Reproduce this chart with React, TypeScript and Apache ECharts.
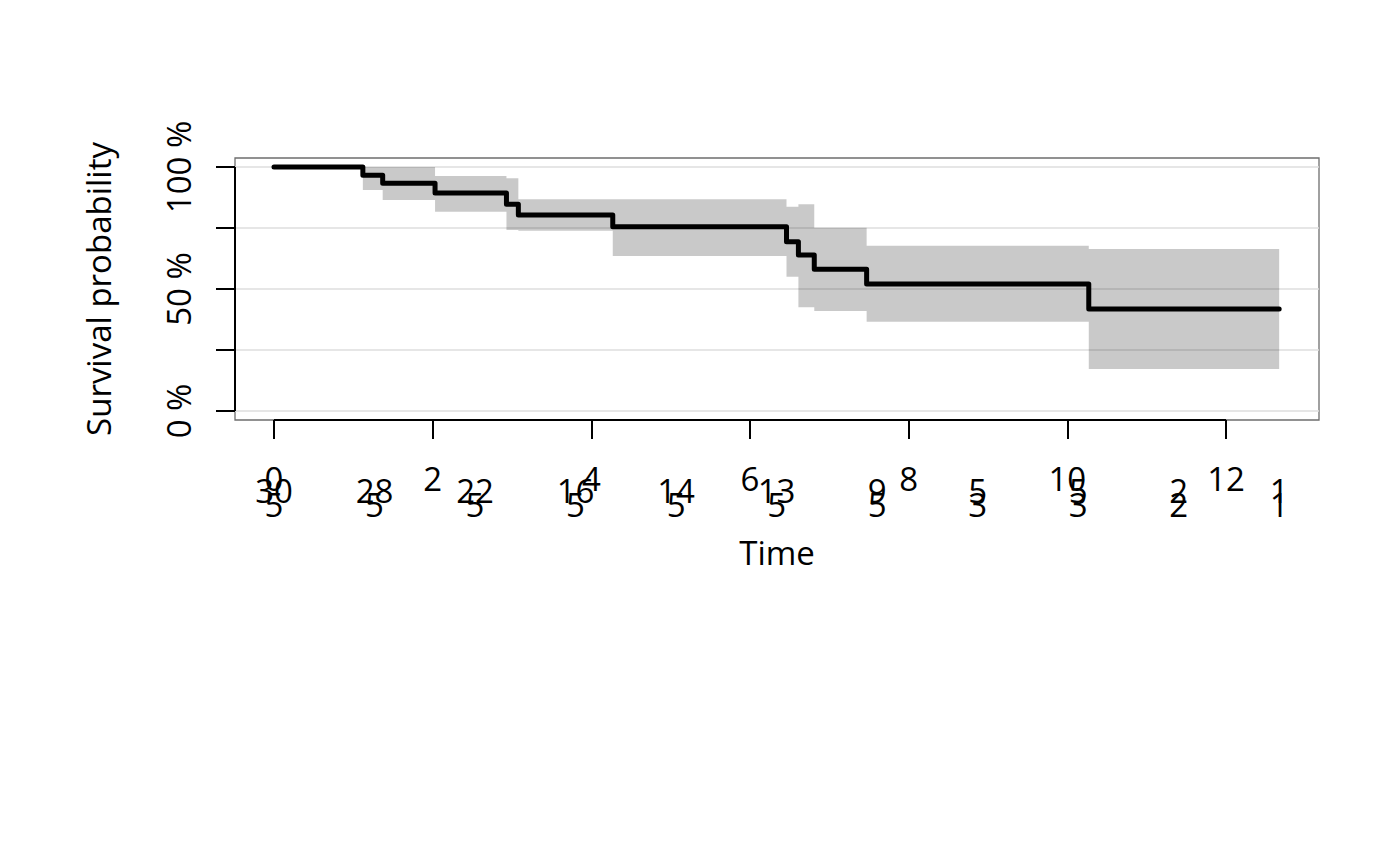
import React, { useEffect, useRef } from "react";
import * as echarts from "echarts";

// Kaplan-Meier step data (time, survival %, CI bounds %)
const stepTimes = [0, 1.12, 1.37, 2.03, 2.93, 3.08, 4.27, 6.46, 6.61, 6.81, 7.47, 10.27];
const survival = [100, 96.67, 93.33, 89.3, 84.7, 80.3, 75.5, 69.4, 63.9, 58.1, 52.0, 41.8];
const upperCI = [100, 100, 100, 96.3, 95.4, 86.8, 86.8, 83.7, 84.7, 75.1, 67.7, 66.4];
const lowerCI = [100, 90.6, 86.5, 81.7, 74.2, 73.9, 63.5, 55.0, 42.5, 41.0, 36.6, 17.2];
const endTime = 12.67;

const xTicks = [0, 2, 4, 6, 8, 10, 12];
const yTicks = [0, 25, 50, 75, 100];
const yLabels = [0, 50, 100];

const atRiskTimes = [0, 1.267, 2.534, 3.801, 5.068, 6.335, 7.602, 8.869, 10.136, 11.403, 12.67];
const atRiskRow1 = [30, 28, 22, 16, 14, 13, 9, 5, 5, 2, 1];
const atRiskRow2 = [5, 5, 5, 5, 5, 5, 5, 3, 3, 2, 1];

const X_MIN = -0.4916;
const X_MAX = 13.172;
const Y_MIN = -3.689;
const Y_MAX = 103.69;

const FONT = "Open Sans";
const FS = 33;

function lookup(values: number[], v: number): string {
  const i = atRiskTimes.findIndex((t) => Math.abs(t - v) < 1e-6);
  return i >= 0 ? String(values[i]) : "";
}

export default function App() {
  const ref = useRef<HTMLDivElement>(null);

  useEffect(() => {
    if (!ref.current) return;
    const chart = echarts.init(ref.current, undefined, { renderer: "svg" });

    const curve = stepTimes.map((t, i) => [t, survival[i]]);
    curve.push([endTime, survival[survival.length - 1]]);

    const baseX = {
      type: "value",
      min: X_MIN,
      max: X_MAX,
      position: "bottom",
      splitLine: { show: false },
      axisLine: { show: false, onZero: false },
    };

    const rowAxis = (values: number[], margin: number) => ({
      ...baseX,
      axisTick: { show: false },
      axisLabel: {
        show: true,
        customValues: atRiskTimes,
        formatter: (v: number) => lookup(values, v),
        margin,
        fontSize: FS,
        lineHeight: FS,
        fontFamily: FONT,
        color: "#000",
      },
    });

    const option: any = {
      animation: false,
      backgroundColor: "#fff",
      grid: {
        left: 235,
        right: 81,
        top: 158,
        bottom: 446,
        show: true,
        borderColor: "#6e6e6e",
        borderWidth: 1.3,
        backgroundColor: "transparent",
      },
      xAxis: [
        {
          ...baseX,
          name: "Time",
          nameLocation: "middle",
          nameGap: 116,
          nameTextStyle: { fontSize: FS, lineHeight: FS, fontFamily: FONT, color: "#000" },
          axisTick: {
            show: true,
            customValues: xTicks,
            length: 19,
            lineStyle: { color: "#000", width: 2 },
          },
          axisLabel: {
            show: true,
            customValues: xTicks,
            margin: 42,
            fontSize: FS,
            lineHeight: FS,
            fontFamily: FONT,
            color: "#000",
          },
        },
        rowAxis(atRiskRow1, 54),
        rowAxis(atRiskRow2, 68),
      ],
      yAxis: {
        type: "value",
        min: Y_MIN,
        max: Y_MAX,
        splitLine: { show: false },
        axisLine: { show: false, onZero: false },
        name: "Survival probability",
        nameLocation: "middle",
        nameGap: 120,
        nameTextStyle: { fontSize: FS, lineHeight: FS, fontFamily: FONT, color: "#000" },
        axisTick: {
          show: true,
          customValues: yTicks,
          length: 19,
          lineStyle: { color: "#000", width: 2 },
        },
        axisLabel: {
          show: true,
          customValues: yLabels,
          formatter: (v: number) => `${v} %`,
          rotate: 90,
          margin: 40,
          fontSize: FS,
          lineHeight: FS,
          fontFamily: FONT,
          color: "#000",
        },
      },
      series: [
        {
          name: "gridlines",
          type: "line",
          data: [],
          z: 1,
          silent: true,
          markLine: {
            z: 1,
            silent: true,
            symbol: "none",
            label: { show: false },
            lineStyle: { color: "#dedede", width: 1.5, type: "solid" },
            data: yTicks.map((v) => ({ yAxis: v })),
          },
        },
        {
          name: "ci",
          type: "custom",
          z: 2,
          silent: true,
          data: [[0, 0]],
          encode: { x: 0, y: 1 },
          renderItem: (_params: any, api: any) => {
            const n = stepTimes.length;
            const pts: number[][] = [];
            for (let i = 0; i < n; i++) {
              const t0 = stepTimes[i];
              const t1 = i + 1 < n ? stepTimes[i + 1] : endTime;
              pts.push(api.coord([t0, upperCI[i]]));
              pts.push(api.coord([t1, upperCI[i]]));
            }
            for (let i = n - 1; i >= 0; i--) {
              const t0 = stepTimes[i];
              const t1 = i + 1 < n ? stepTimes[i + 1] : endTime;
              pts.push(api.coord([t1, lowerCI[i]]));
              pts.push(api.coord([t0, lowerCI[i]]));
            }
            return {
              type: "polygon",
              shape: { points: pts },
              style: { fill: "rgba(0,0,0,0.21)", stroke: "none" },
            };
          },
        },
        {
          name: "survival",
          type: "line",
          step: "end",
          z: 3,
          data: curve,
          symbol: "none",
          lineStyle: { color: "#000", width: 5, cap: "round", join: "round" },
        },
        {
          name: "xAxisLine",
          type: "line",
          z: 4,
          clip: false,
          symbol: "none",
          data: [
            [xTicks[0], Y_MIN],
            [xTicks[xTicks.length - 1], Y_MIN],
          ],
          lineStyle: { color: "#000", width: 2 },
        },
        {
          name: "yAxisLine",
          type: "line",
          z: 4,
          clip: false,
          symbol: "none",
          data: [
            [X_MIN, yTicks[0]],
            [X_MIN, yTicks[yTicks.length - 1]],
          ],
          lineStyle: { color: "#000", width: 2 },
        },
      ],
    };

    chart.setOption(option);
    return () => chart.dispose();
  }, []);

  return (
    <div
      ref={ref}
      style={{ position: "absolute", left: 0, top: 0, width: 1400, height: 866, background: "#fff" }}
    />
  );
}
